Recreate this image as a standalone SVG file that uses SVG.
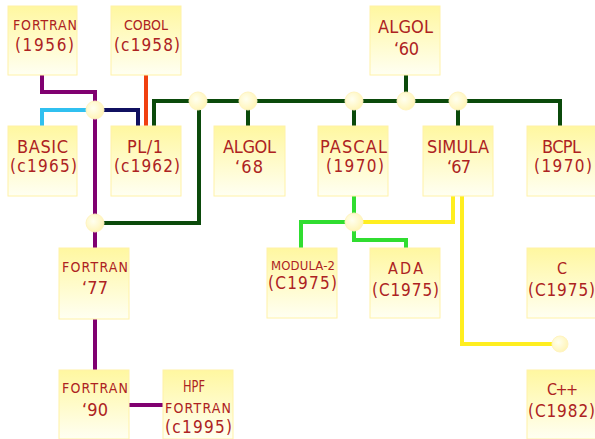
<svg xmlns="http://www.w3.org/2000/svg" width="595" height="439" viewBox="0 0 595 439">
<defs>
<linearGradient id="bg" x1="0" y1="0" x2="0" y2="1">
<stop offset="0" stop-color="#fff7a0"/>
<stop offset="1" stop-color="#fffff2"/>
</linearGradient>
<radialGradient id="jg" cx="0.4" cy="0.4" r="0.7">
<stop offset="0" stop-color="#fffff0"/>
<stop offset="1" stop-color="#fff3b0"/>
</radialGradient>
<style>
.box{fill:url(#bg);stroke:#fff2a8;stroke-width:1}
.t{font-family:"DejaVu Sans Condensed","DejaVu Sans","Liberation Sans",sans-serif;fill:#ad2222}
.ln{fill:none;stroke-width:4;stroke-linejoin:miter}
.j{fill:url(#jg);stroke:#fff4c0;stroke-width:1}
.pu{stroke:#800070}.cy{stroke:#30c0f0}.nv{stroke:#101060}.rd{stroke:#f04010}.dg{stroke:#0b4a0b}.bg{stroke:#30dd30}.ye{stroke:#ffee20}
</style>
</defs>
<rect width="595" height="439" fill="#ffffff"/>
<g id="connectors">
<path class="ln pu" d="M42,75 V92 H95 V248 M95,319 V370 M129,405 H163"/>
<path class="ln cy" d="M95,110 H42 V126"/>
<path class="ln nv" d="M95,110 H138 V126"/>
<path class="ln rd" d="M146,75 V126"/>
<path class="ln dg" d="M154,126 V101 H560 V126 M406,75 V101 M248,101 V126 M354,101 V126 M458,101 V126 M199,101 V223 H95"/>
<path class="ln bg" d="M354,196 V240 H406 V248 M354,222 H301 V248"/>
<path class="ln ye" d="M354,222 H453 V196 M462,196 V344 H560"/>
<circle class="j" cx="95" cy="110" r="9"/>
<circle class="j" cx="95" cy="223" r="9"/>
<circle class="j" cx="198" cy="101" r="9"/>
<circle class="j" cx="248" cy="101" r="9"/>
<circle class="j" cx="354" cy="101" r="9"/>
<circle class="j" cx="406" cy="101" r="9"/>
<circle class="j" cx="458" cy="101" r="9"/>
<circle class="j" cx="354" cy="222" r="9"/>
<circle class="j" cx="560" cy="344" r="8"/>
</g>
<g id="fortran56"><rect class="box" x="8" y="6" width="69" height="69"/>
<text class="t" x="13" y="30" font-size="14" textLength="64" lengthAdjust="spacing">FORTRAN</text>
<text class="t" x="15" y="51" font-size="17" textLength="59" lengthAdjust="spacing">(1956)</text></g>
<g id="cobol"><rect class="box" x="111" y="6" width="70" height="69"/>
<text class="t" x="124" y="30" font-size="14" textLength="44" lengthAdjust="spacing">COBOL</text>
<text class="t" x="114" y="51" font-size="17" textLength="66" lengthAdjust="spacing">(c1958)</text></g>
<g id="algol60"><rect class="box" x="370" y="6" width="70" height="69"/>
<text class="t" x="378" y="33" font-size="18" textLength="55" lengthAdjust="spacing">ALGOL</text>
<text class="t" x="394" y="55" font-size="18" textLength="25" lengthAdjust="spacing">‘60</text></g>
<g id="basic"><rect class="box" x="8" y="126" width="69" height="70"/>
<text class="t" x="17" y="153" font-size="18" textLength="51" lengthAdjust="spacing">BASIC</text>
<text class="t" x="10" y="172" font-size="17" textLength="67" lengthAdjust="spacing">(c1965)</text></g>
<g id="pl1"><rect class="box" x="111" y="126" width="70" height="70"/>
<text class="t" x="127" y="153" font-size="18" textLength="36" lengthAdjust="spacing">PL/1</text>
<text class="t" x="114" y="172" font-size="17" textLength="66" lengthAdjust="spacing">(c1962)</text></g>
<g id="algol68"><rect class="box" x="214" y="126" width="71" height="70"/>
<text class="t" x="223" y="153" font-size="18" textLength="53" lengthAdjust="spacing">ALGOL</text>
<text class="t" x="235" y="173" font-size="18" textLength="28" lengthAdjust="spacing">‘68</text></g>
<g id="pascal"><rect class="box" x="318" y="126" width="70" height="70"/>
<text class="t" x="320" y="153" font-size="18" textLength="67" lengthAdjust="spacing">PASCAL</text>
<text class="t" x="326" y="172" font-size="17" textLength="58" lengthAdjust="spacing">(1970)</text></g>
<g id="simula"><rect class="box" x="423" y="126" width="70" height="70"/>
<text class="t" x="427" y="153" font-size="18" textLength="62" lengthAdjust="spacing">SIMULA</text>
<text class="t" x="447" y="173" font-size="18" textLength="24" lengthAdjust="spacing">‘67</text></g>
<g id="bcpl"><rect class="box" x="527" y="126" width="70" height="70"/>
<text class="t" x="542" y="153" font-size="18" textLength="39" lengthAdjust="spacing">BCPL</text>
<text class="t" x="534" y="172" font-size="17" textLength="58" lengthAdjust="spacing">(1970)</text></g>
<g id="fortran77"><rect class="box" x="59" y="248" width="70" height="71"/>
<text class="t" x="62" y="272" font-size="14" textLength="66" lengthAdjust="spacing">FORTRAN</text>
<text class="t" x="82" y="294" font-size="18" textLength="26" lengthAdjust="spacing">‘77</text></g>
<g id="modula2"><rect class="box" x="267" y="248" width="70" height="70"/>
<text class="t" x="271" y="270" font-size="13" textLength="64" lengthAdjust="spacing">MODULA-2</text>
<text class="t" x="268" y="289" font-size="17" textLength="69" lengthAdjust="spacing">(C1975)</text></g>
<g id="ada"><rect class="box" x="370" y="248" width="70" height="70"/>
<text class="t" x="388" y="274" font-size="16" textLength="35" lengthAdjust="spacing">ADA</text>
<text class="t" x="372" y="296" font-size="17" textLength="67" lengthAdjust="spacing">(C1975)</text></g>
<g id="c"><rect class="box" x="527" y="248" width="70" height="70"/>
<text class="t" x="557" y="274" font-size="16">C</text>
<text class="t" x="528" y="296" font-size="17" textLength="67" lengthAdjust="spacing">(C1975)</text></g>
<g id="fortran90"><rect class="box" x="59" y="370" width="70" height="69"/>
<text class="t" x="62" y="393" font-size="14" textLength="66" lengthAdjust="spacing">FORTRAN</text>
<text class="t" x="82" y="416" font-size="18" textLength="26" lengthAdjust="spacing">‘90</text></g>
<g id="hpf"><rect class="box" x="163" y="370" width="70" height="69"/>
<text class="t" x="183" y="392" font-size="16" textLength="22" lengthAdjust="spacingAndGlyphs">HPF</text>
<text class="t" x="165" y="413" font-size="14" textLength="66" lengthAdjust="spacing">FORTRAN</text>
<text class="t" x="165" y="433" font-size="17" textLength="67" lengthAdjust="spacing">(c1995)</text></g>
<g id="cpp"><rect class="box" x="527" y="370" width="70" height="69"/>
<text class="t" x="547" y="395" font-size="16" textLength="31" lengthAdjust="spacing">C++</text>
<text class="t" x="528" y="417" font-size="17" textLength="67" lengthAdjust="spacing">(C1982)</text></g>
</svg>
